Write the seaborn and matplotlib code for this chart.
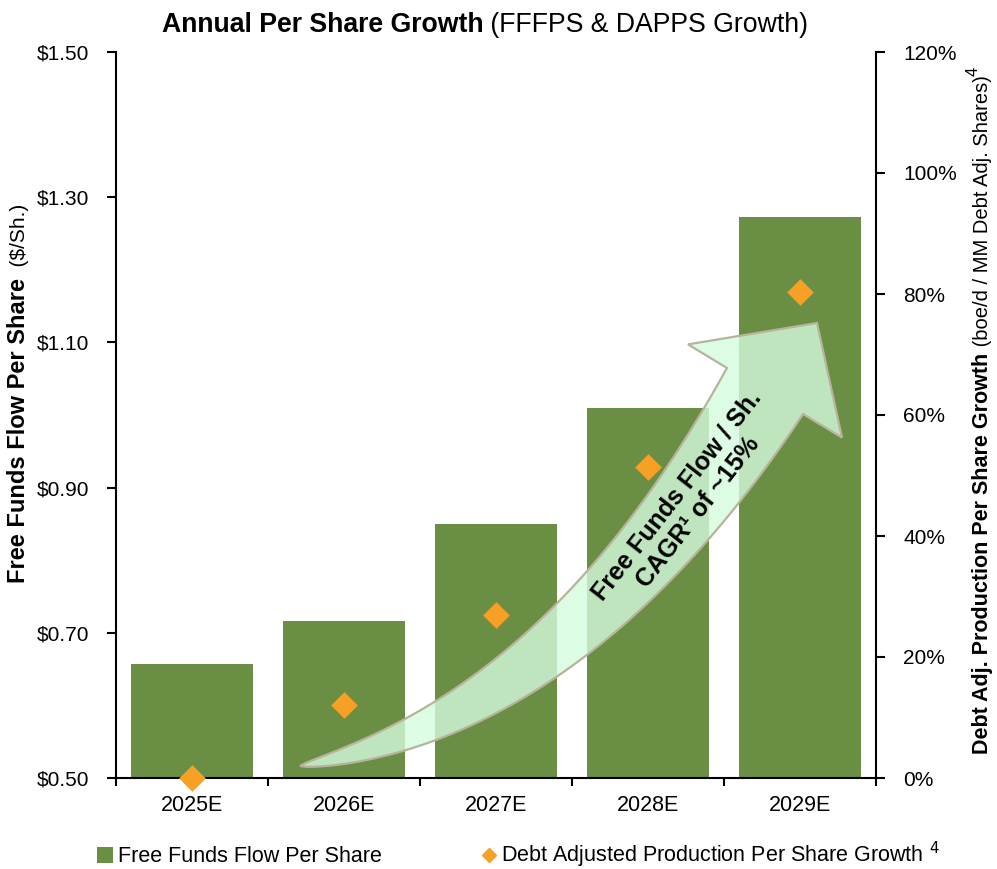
import numpy as np
import pandas as pd
import seaborn as sns
import matplotlib.pyplot as plt
from matplotlib.patches import Polygon, Patch
from matplotlib.lines import Line2D
from matplotlib.transforms import IdentityTransform
from matplotlib.ticker import FuncFormatter

# Data
years = ['2025E', '2026E', '2027E', '2028E', '2029E']
fffps = [0.657, 0.716, 0.850, 1.010, 1.273]        # $/share, left axis
dapps_growth = [0.0, 0.121, 0.269, 0.514, 0.803]   # right axis, fraction
left_ticks = [0.50, 0.70, 0.90, 1.10, 1.30, 1.50]
right_ticks = [0.0, 0.2, 0.4, 0.6, 0.8, 1.0, 1.2]

GREEN = '#6a8e44'
ORANGE = '#f6a026'
NARROW = ['Liberation Sans Narrow', 'Liberation Sans', 'DejaVu Sans']
ARIAL = ['Liberation Sans', 'DejaVu Sans']

sns.set_theme(style='ticks')
plt.rcParams['font.family'] = ARIAL
plt.rcParams['axes.edgecolor'] = 'black'
plt.rcParams['axes.linewidth'] = 1.5
for k in ('text.color', 'axes.labelcolor', 'xtick.color', 'ytick.color',
          'xtick.labelcolor', 'ytick.labelcolor'):
    plt.rcParams[k] = 'black'

W, H = 997, 869
AX_L, AX_R, AX_T, AX_B = 116, 876, 52, 778

fig = plt.figure(figsize=(W / 100, H / 100), dpi=100)
ax = fig.add_axes([AX_L / W, 1 - AX_B / H, (AX_R - AX_L) / W, (AX_B - AX_T) / H])

df = pd.DataFrame({'year': years, 'fffps': fffps, 'dapps': dapps_growth})

sns.barplot(data=df, x='year', y='fffps', color=GREEN, saturation=1, width=0.8,
            linewidth=0, ax=ax, zorder=1)
ax.set_ylim(0.5, 1.5)
ax.set_yticks(left_ticks)
ax.yaxis.set_major_formatter(FuncFormatter(lambda v, p: f'${v:.2f}'))
ax.set_xlabel('')
ax.set_ylabel('')

ax2 = ax.twinx()
sns.scatterplot(data=df, x='year', y='dapps', marker='D', s=185, color=ORANGE,
                linewidth=0, ax=ax2, zorder=6, clip_on=False, legend=False)
ax2.set_ylim(0, 1.2)
ax2.set_yticks(right_ticks)
ax2.yaxis.set_major_formatter(FuncFormatter(lambda v, p: f'{v * 100:.0f}%'))
ax2.set_ylabel('')
ax2.set_xlabel('')

ax.set_xlim(-0.5, len(years) - 0.5)
ax.set_xticks(range(len(years)))
ax.set_xticklabels(years, fontfamily=NARROW, fontsize=15.5)
ax.set_xticks(np.arange(-0.5, len(years), 1), minor=True)
ax.tick_params(axis='x', which='major', length=0, pad=12)
ax.tick_params(axis='x', which='minor', length=6, width=1.5, direction='out', color='black')
ax.tick_params(axis='y', length=6.5, width=1.5, direction='out', pad=13, labelsize=15, color='black')
ax2.tick_params(axis='y', length=6.5, width=1.5, direction='out', pad=13, labelsize=15, color='black')

for a in (ax, ax2):
    a.spines['top'].set_visible(False)
ax.spines['right'].set_visible(False)
ax2.spines['left'].set_visible(False)
ax2.spines['bottom'].set_visible(False)


# Curved arrow annotation (pixel geometry -> axes fraction)
def arrow_outline():
    p0 = np.array([300.0, 766.0])
    p1 = np.array([567.0, 718.0])
    p2 = np.array([765.0, 391.0])
    u = np.linspace(0, 1, 80)[:, None]
    pts = (1 - u) ** 2 * p0 + 2 * u * (1 - u) * p1 + u ** 2 * p2
    tan = 2 * (1 - u) * (p1 - p0) + 2 * u * (p2 - p1)
    tan = tan / np.linalg.norm(tan, axis=1, keepdims=True)
    nrm = np.column_stack([-tan[:, 1], tan[:, 0]])
    w = 44.5 * u[:, 0] ** 0.7
    lower = pts + nrm * w[:, None]
    upper = pts - nrm * w[:, None]
    n = nrm[-1]
    head = np.array([p2 + n * 90, [817.0, 323.0], p2 - n * 90])
    outline = np.vstack([lower, head, upper[::-1]])
    fx = (outline[:, 0] - AX_L) / (AX_R - AX_L)
    fy = (AX_B - outline[:, 1]) / (AX_B - AX_T)
    return np.column_stack([fx, fy])


ax2.add_patch(Polygon(arrow_outline(), closed=True, transform=ax2.transAxes,
                      facecolor=(0.83, 0.99, 0.87, 0.8), edgecolor='#b8b39b',
                      linewidth=1.6, zorder=2))
ax2.text(0.752, 0.378, 'Free Funds Flow / Sh.\nCAGR\u00b9 of ~15%', transform=ax2.transAxes,
         rotation=52, rotation_mode='anchor', ha='center', va='center',
         fontsize=18, fontweight='bold', linespacing=1.15, zorder=4)


# Mixed-style text pieces placed one after another
def rich_text(x, y, parts, vertical=False):
    r = fig.canvas.get_renderer()
    arts = []
    for s, kw, rise in parts:
        t = fig.text(0, 0, s, transform=IdentityTransform(), rotation=90 if vertical else 0,
                     rotation_mode='anchor', ha='left', va='baseline', **kw)
        bb = t.get_window_extent(r)
        arts.append((t, bb.height if vertical else bb.width, rise))
    total = sum(a[1] for a in arts)
    pos = (y if vertical else x) - total / 2
    for t, ln, rise in arts:
        if vertical:
            t.set_position((x - rise, pos))
        else:
            t.set_position((pos, y + rise))
        pos += ln


rich_text(485, H - 32, [
    ('Annual Per Share Growth', dict(fontfamily=NARROW, fontsize=19.2, fontweight='bold'), 0),
    (' (FFFPS & DAPPS Growth)', dict(fontfamily=NARROW, fontsize=19.2), 0),
])
rich_text(25, H - 393, [
    ('Free Funds Flow Per Share', dict(fontfamily=NARROW, fontsize=17, fontweight='bold'), 0),
    ('  ($/Sh.)', dict(fontfamily=NARROW, fontsize=15), 0),
], vertical=True)
rich_text(988, H - 410, [
    ('Debt Adj. Production Per Share Growth', dict(fontfamily=NARROW, fontsize=15.5, fontweight='bold'), 0),
    (' (boe/d / MM Debt Adj. Shares)', dict(fontfamily=NARROW, fontsize=14.5), 0),
    ('4', dict(fontfamily=NARROW, fontsize=12), 10),
], vertical=True)

handles = [
    Patch(facecolor=GREEN, edgecolor='none', label='Free Funds Flow Per Share'),
    Line2D([], [], marker='D', color=ORANGE, linestyle='none', markersize=7,
           label='Debt Adjusted Production Per Share Growth $^{4}$'),
]
fig.legend(handles=handles, loc='center', bbox_to_anchor=(0.52, 1 - 855 / H), ncol=2,
           frameon=False, prop=dict(family=NARROW, size=15.5), handlelength=0.75,
           handleheight=0.75, handletextpad=0.2, columnspacing=4.6)

fig.savefig('out.png', dpi=100)
